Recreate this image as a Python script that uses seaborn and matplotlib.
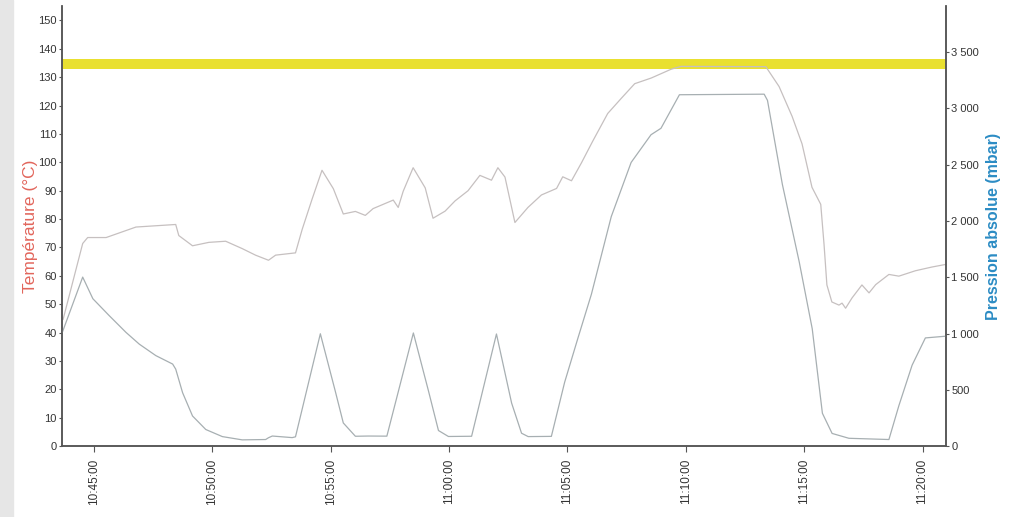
import pandas as pd
import seaborn as sns
import matplotlib.pyplot as plt
from matplotlib.patches import Rectangle

# time in minutes after 10:00
temp_time = [43.69, 44.52, 44.73, 45.51, 46.77, 48.45, 48.58, 49.16, 49.85, 50.56,
             51.26, 51.82, 52.37, 52.67, 53.51, 53.79, 54.21, 54.63, 55.11, 55.53,
             56.04, 56.46, 56.79, 57.30, 57.64, 57.85, 58.06, 58.48, 58.99, 59.32,
             59.83, 60.25, 60.80, 61.30, 61.79, 62.06, 62.36, 62.78, 63.33, 63.90,
             64.54, 64.80, 65.17, 65.59, 66.07, 66.70, 67.28, 67.84, 68.54, 69.38,
             69.80, 73.38, 73.94, 74.49, 74.91, 75.33, 75.70, 75.84, 75.96, 76.17,
             76.47, 76.60, 76.75, 77.02, 77.44, 77.74, 78.02, 78.58, 79.00, 79.70,
             80.39, 80.96]
temp_values = [44.6, 71.4, 73.5, 73.5, 77.2, 78.1, 74.2, 70.6, 71.8, 72.2,
               69.6, 67.3, 65.5, 67.3, 68.1, 76.3, 87.0, 97.2, 90.7, 81.8,
               82.7, 81.3, 83.7, 85.5, 86.7, 84.1, 89.8, 98.1, 91.0, 80.3,
               82.8, 86.4, 90.0, 95.4, 93.7, 98.1, 94.8, 78.8, 84.1, 88.5,
               90.8, 94.9, 93.5, 99.8, 107.5, 117.2, 122.6, 127.7, 129.7, 132.8,
               133.8, 133.7, 126.7, 116.2, 106.5, 91.2, 85.2, 71.0, 56.8, 50.8,
               49.7, 50.4, 48.6, 52.2, 56.8, 54.0, 56.9, 60.5, 59.9, 61.8,
               63.1, 64.0]

press_time = [43.65, 44.52, 44.95, 45.64, 46.35, 46.91, 47.61, 48.32, 48.45, 48.74,
              49.16, 49.72, 50.42, 51.26, 52.25, 52.37, 52.53, 53.37, 53.51, 54.56,
              55.19, 55.53, 56.04, 56.58, 57.37, 58.49, 59.12, 59.55, 59.97, 60.95,
              62.00, 62.64, 63.06, 63.34, 64.32, 64.88, 65.44, 66.01, 66.85, 67.69,
              68.53, 68.95, 69.73, 73.31, 73.45, 74.08, 74.79, 75.34, 75.77, 76.18,
              76.89, 78.58, 79.00, 79.56, 80.12, 80.96]
press_values = [1005, 1501, 1309, 1159, 1010, 906, 804, 729, 684, 475,
                268, 148, 85, 56, 59, 75, 90, 76, 83, 998,
                489, 206, 88, 90, 89, 1005, 497, 139, 86, 88,
                996, 383, 115, 85, 87, 567, 958, 1348, 2038, 2519,
                2765, 2822, 3120, 3125, 3070, 2323, 1637, 1043, 292, 113,
                70, 59, 359, 719, 961, 976]

setpoint_temp = 134.5

tick_minutes = [45, 50, 55, 60, 65, 70, 75, 80]
tick_labels = ["10:45:00", "10:50:00", "10:55:00", "11:00:00",
               "11:05:00", "11:10:00", "11:15:00", "11:20:00"]
temp_ticks = list(range(0, 151, 10))
press_ticks = [0, 500, 1000, 1500, 2000, 2500, 3000, 3500]
press_tick_labels = ["0", "500", "1 000", "1 500", "2 000", "2 500", "3 000", "3 500"]

sns.set_style("ticks")
plt.rcParams['font.family'] = ['Liberation Sans', 'DejaVu Sans']

temp_df = pd.DataFrame({"t": temp_time, "T": temp_values})
press_df = pd.DataFrame({"t": press_time, "P": press_values})

fig = plt.figure(figsize=(10.18, 5.17), dpi=100)
fig.patches.append(Rectangle((0, 0), 0.013, 1, transform=fig.transFigure,
                             color="#e6e6e6", zorder=-1))
ax = fig.add_axes([0.061, 0.137, 0.868, 0.851])
ax2 = ax.twinx()

ax.axhline(setpoint_temp, color="#e9e030", lw=7.2, zorder=1)
sns.lineplot(data=temp_df, x="t", y="T", ax=ax, color="#c6c0c0", lw=0.9)
sns.lineplot(data=press_df, x="t", y="P", ax=ax2, color="#a7afb2", lw=0.9)

ax.set_xlim(43.65, 80.98)
ax.set_ylim(0, 155)
ax2.set_ylim(0, 155 * 25.2)

ax.set_xticks(tick_minutes)
ax.set_xticklabels(tick_labels, rotation=90, fontsize=8.5, color="#333333")
ax.set_yticks(temp_ticks)
ax.set_yticklabels([str(v) for v in temp_ticks], fontsize=8, color="#333333")
ax2.set_yticks(press_ticks)
ax2.set_yticklabels(press_tick_labels, fontsize=8, color="#333333")

ax.tick_params(axis="x", length=4, pad=5, width=0.8, color="#555555")
ax.tick_params(axis="y", length=2, pad=2, width=0.8, color="#555555")
ax2.tick_params(axis="y", length=2, pad=2, width=0.8, color="#555555")

for a in (ax, ax2):
    a.spines["top"].set_visible(False)
    for s in ("left", "right", "bottom"):
        a.spines[s].set_color("#555555")
        a.spines[s].set_linewidth(1.1)

ax.set_xlabel("")
ax.set_ylabel("Température (°C)", color="#e2665c", fontsize=12.5, labelpad=0)
ax2.set_ylabel("Pression absolue (mbar)", color="#2c8cc4", fontsize=11.5,
               fontweight="bold", labelpad=5)

fig.savefig("out.png", dpi=100, facecolor="white")
